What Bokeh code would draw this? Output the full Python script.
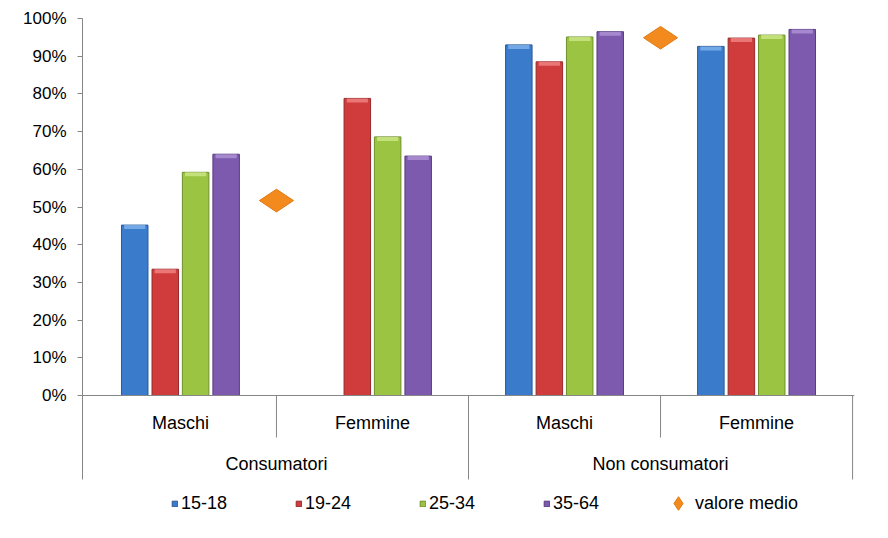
import math
from bokeh.plotting import figure
from bokeh.models import (FactorRange, ColumnDataSource, Range1d, FixedTicker,
                          PrintfTickFormatter, Legend, LegendItem, Span)
from bokeh.transform import dodge
from bokeh.embed import file_html
from bokeh.resources import INLINE

# ---------------- data ----------------
groups = ["Consumatori", "Non consumatori"]
sexes = ["Maschi", "Femmine"]
age_classes = ["15-18", "19-24", "25-34", "35-64"]
v_15_18 = [45.2, float("nan"), 93.0, 92.6]
v_19_24 = [33.5, 78.8, 88.5, 94.8]
v_25_34 = [59.2, 68.6, 95.1, 95.6]
v_35_64 = [64.0, 63.5, 96.5, 97.1]
mean_label = "valore medio"
mean_values = [51.7, 94.9]
y_ticks = [0, 10, 20, 30, 40, 50, 60, 70, 80, 90, 100]

# ---------------- layout constants ----------------
W, H = 880, 530
LEFT, RIGHT_B, TOP = 82, 26, 18
PX = 3.77                      # pixels per percent
FONT = "Liberation Sans"
GRAY = "#868686"

def px_below_zero(px):
    return -px / PX

y_start = 100 - (H - TOP) / PX
axis_low = px_below_zero(84)
inner_low = px_below_zero(42)
sub_label_y = px_below_zero(27)
grp_label_y = px_below_zero(68)
CAP = 4 / PX

factors = [(g, s) for g in groups for s in sexes]

p = figure(width=W, height=H, output_backend="svg", toolbar_location=None,
           x_range=FactorRange(*factors, factor_padding=0, group_padding=0,
                               range_padding=0.01, range_padding_units="absolute"),
           y_range=Range1d(y_start, 100), x_axis_location=None,
           min_border_left=LEFT, min_border_right=RIGHT_B, min_border_top=TOP,
           min_border_bottom=0, outline_line_color=None)
p.xgrid.visible = False
p.ygrid.visible = False

ya = p.yaxis[0]
ya.ticker = FixedTicker(ticks=y_ticks)
ya.formatter = PrintfTickFormatter(format="%d%%")
ya.bounds = (axis_low, 100)
ya.axis_line_color = GRAY
ya.major_tick_line_color = GRAY
ya.major_tick_in = 0
ya.major_tick_out = 5
ya.minor_tick_line_color = None
ya.major_label_standoff = 11
ya.major_label_text_font = FONT
ya.major_label_text_font_size = "17px"
ya.major_label_text_color = "black"

# zero line and category separators
p.add_layout(Span(location=0, dimension="width", line_color=GRAY, line_width=1))
bounds_x = list(range(len(factors) + 1))
inner_x = [b for b in bounds_x if b % len(sexes) != 0]
outer_x = [b for b in bounds_x if b % len(sexes) == 0 and b != 0]
p.segment(x0=inner_x, x1=inner_x, y0=[0] * len(inner_x), y1=[inner_low] * len(inner_x),
          line_color=GRAY, line_width=1)
p.segment(x0=outer_x, x1=outer_x, y0=[0] * len(outer_x), y1=[axis_low] * len(outer_x),
          line_color=GRAY, line_width=1)

# category labels
p.text(x=factors, y=[sub_label_y] * len(factors), text=[f[1] for f in factors],
       text_align="center", text_baseline="middle", text_font_size="18px",
       text_font={"value": FONT}, text_color="black")
p.text(x=groups, y=[grp_label_y] * len(groups), text=groups,
       text_align="center", text_baseline="middle", text_font_size="18px",
       text_font={"value": FONT}, text_color="black")

# bars
series = [v_15_18, v_19_24, v_25_34, v_35_64]
main_c = ["#3A7CCB", "#D03C3C", "#9CC443", "#7E5AAE"]
edge_c = ["#2A5A96", "#962A2A", "#6E8F2C", "#573C80"]
cap_c = ["#7DB0EA", "#EE8080", "#CBE585", "#AC90D4"]
offsets = [-0.238, -0.079, 0.079, 0.238]
BW = 0.138

items = []
for vals, off, mc, ec, cc, lab in zip(series, offsets, main_c, edge_c, cap_c, age_classes):
    src = ColumnDataSource(dict(x=factors, top=vals, cap=[v - CAP for v in vals]))
    r = p.vbar(x=dodge("x", off, range=p.x_range), top="top", bottom=0, width=BW,
               source=src, fill_color=mc, line_color=ec, line_width=1)
    p.vbar(x=dodge("x", off, range=p.x_range), top="top", bottom="cap", width=BW * 0.8,
           source=src, fill_color=cc, line_color=None, fill_alpha=0.85)
    items.append(LegendItem(label=lab, renderers=[r]))

mean_src = ColumnDataSource(dict(x=groups, y=mean_values))
rd = p.scatter(x="x", y="y", source=mean_src, marker="diamond", size=34,
               angle=math.pi / 2, fill_color="#F28A1E", line_color="#E07A10")

leg_a = Legend(items=items, orientation="horizontal", location=(89, 16),
               glyph_width=7, glyph_height=7, label_standoff=3, label_width=106,
               spacing=8, padding=0, margin=0, border_line_color=None,
               background_fill_alpha=0, label_text_font=FONT,
               label_text_font_size="18px", label_text_color="black")
leg_b = Legend(items=[LegendItem(label=mean_label, renderers=[rd])],
               orientation="horizontal", location=(579, 10),
               glyph_width=34, glyph_height=34, label_standoff=0,
               padding=0, margin=0, border_line_color=None,
               background_fill_alpha=0, label_text_font=FONT,
               label_text_font_size="18px", label_text_color="black")
p.add_layout(leg_a)
p.add_layout(leg_b)

open("out.html", "w").write(file_html(p, INLINE))
